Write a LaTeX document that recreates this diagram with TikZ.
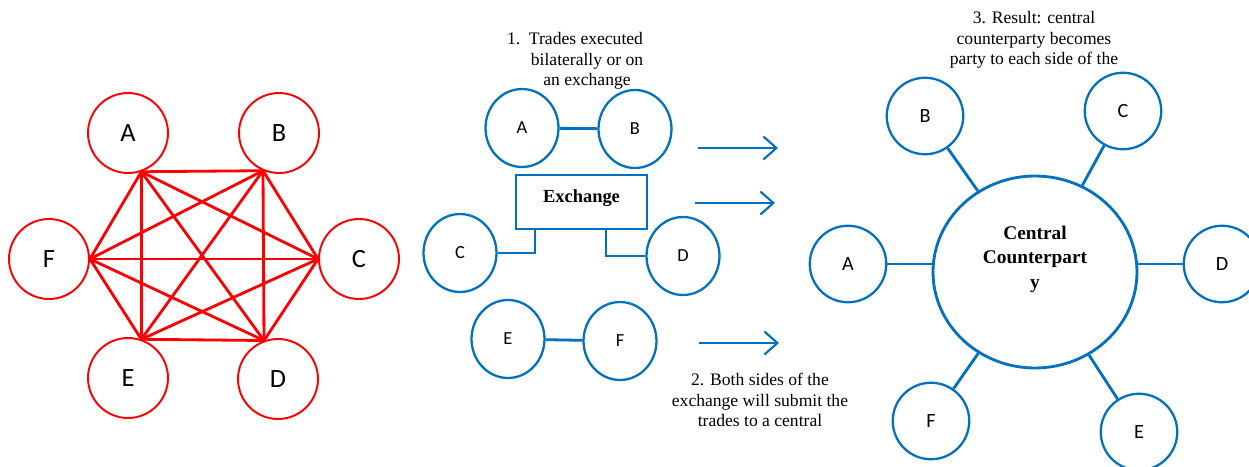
\documentclass[tikz,border=0pt]{standalone}
\usepackage{fontspec}
\setmainfont{Liberation Serif}
\newfontfamily\partyfont{Carlito}
\usetikzlibrary{positioning,shapes.geometric,arrows.meta}
\definecolor{ccpblue}{RGB}{0,112,192}
\tikzset{
    redparty/.style={circle,draw=red,line width=1.1pt,minimum size=1.6cm,
        inner sep=0pt,font=\partyfont\fontsize{15}{15}\selectfont},
    redline/.style={draw=red,line width=1.6pt},
    bparty/.style={ellipse,draw=ccpblue,line width=1.3pt,minimum width=1.46cm,
        minimum height=1.56cm,inner sep=0pt,font=\partyfont\fontsize{10.5}{10.5}\selectfont},
    cparty/.style={circle,draw=ccpblue,line width=1.3pt,minimum size=1.53cm,
        inner sep=0pt,font=\partyfont\fontsize{11.5}{11.5}\selectfont},
    bline/.style={draw=ccpblue,line width=1.6pt},
    barrow/.style={draw=ccpblue,line width=1.2pt,-{Straight Barb[length=2.6mm,width=4.6mm]}},
    note/.style={align=center,inner sep=0pt,font=\fontsize{10}{11.6}\selectfont}
}

\begin{document}
\begin{tikzpicture}[x=0.02cm,y=-0.02cm]
\useasboundingbox (0,0) rectangle (1249,467);

% everyone trades with everyone
\node[redparty] (rA) at (128,133) {A};
\node[redparty] (rB) at (279,133) {B};
\node[redparty] (rF) at (49,259) {F};
\node[redparty] (rC) at (359,259) {C};
\node[redparty] (rE) at (128,378) {E};
\node[redparty] (rD) at (278,379) {D};
\coordinate (pA) at (rA.-71);
\coordinate (pB) at (rB.-113);
\coordinate (pC) at (rC.west);
\coordinate (pD) at (rD.110);
\coordinate (pE) at (rE.71);
\coordinate (pF) at (rF.east);
\foreach \u/\v in {A/B,A/C,A/D,A/E,A/F,B/C,B/D,B/E,B/F,C/D,C/E,C/F,D/E,D/F,E/F}
    \draw[redline] (p\u) -- (p\v);

% bilateral and exchange trades
\node[note] (step1) at (587,61) {1.\ \ Trades executed\hspace*{0.48cm}\\bilaterally or on\\an exchange};
\node[bparty] (mA) at (522,128) {A};
\node[bparty] (mB) at (635,129) {B};
\draw[bline] (mA) -- (mB);

\node[draw=ccpblue,line width=1.6pt,minimum width=2.62cm,minimum height=1.08cm,
    font=\bfseries\fontsize{10.5}{10.5}\selectfont] (ex) at (581.5,202) {};
\node[font=\bfseries\fontsize{10.5}{10.5}\selectfont] at (581.5,198) {Exchange};
\node[bparty] (mC) at (460,253) {C};
\node[bparty] (mD) at (683,256) {D};
\draw[bline] ([xshift=-0.93cm]ex.south) |- (mC.east);
\draw[bline] ([xshift=0.49cm]ex.south) |- (mD.west);

\node[bparty] (mE) at (508,339) {E};
\node[bparty] (mF) at (620,341) {F};
\draw[bline] (mE) -- (mF);

\coordinate (a1) at (698,148);
\coordinate (a2) at (695,203);
\coordinate (a3) at (699,343);
\draw[barrow] (a1) -- ++(80,0);
\draw[barrow] (a2) -- ++(80,0);
\draw[barrow] (a3) -- ++(80,0);
\node[note] (step2) at (760,400) {2. Both sides of the\\exchange will submit the\\trades to a central};

% central counterparty in the middle
\node[note] (step3) at (1034,40) {3. Result: central\\counterparty becomes\\party to each side of the};
\node[ellipse,draw=ccpblue,line width=1.6pt,minimum width=4.08cm,minimum height=3.84cm] (ccp) at (1035,272) {};
\node[align=center,font=\bfseries\fontsize{11}{14}\selectfont] at (1035,259) {Central\\Counterpart\\y};

\node[cparty] (cA) at (848,264) {A};
\node[cparty] (cB) at (925,116) {B};
\node[cparty] (cC) at (1123,111) {C};
\node[cparty] (cD) at (1222,264) {D};
\node[cparty] (cF) at (931,421) {F};
\node[cparty] (cE) at (1139,432) {E};
\draw[bline] (cA.east) -- (cA.east -| ccp.west);
\draw[bline] (cD.west) -- (cD.west -| ccp.east);
\foreach \p in {cB,cC,cE,cF}
    \draw[bline] (\p) -- (ccp);
\end{tikzpicture}
\end{document}
